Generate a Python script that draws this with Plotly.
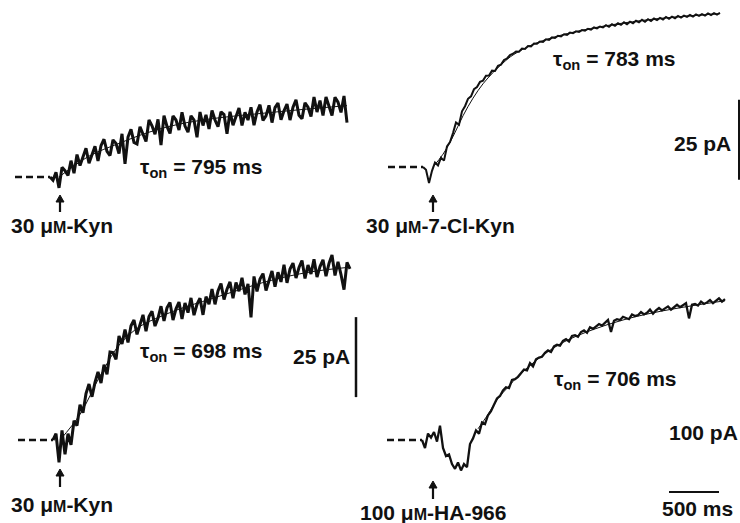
import numpy as np
import plotly.graph_objects as go

# ---------------- data (time in ms, current in pA) ----------------
# Panel A: 30 uM-Kyn (top left)
a_t0, a_dt = -90, 30
a_cur = [0.0, -1.0, 1.5, -3.4, 3.0, 2.0, 0.5, 5.1, 1.2, 7.0,
         3.6, 6.3, 9.0, 4.3, 7.3, 9.6, 5.0, 9.8, 11.8, 8.0,
         6.7, 11.6, 10.5, 7.3, 13.5, 4.1, 12.5, 14.9, 10.8, 10.3,
         15.7, 13.6, 11.1, 17.8, 16.0, 13.4, 18.0, 10.0, 19.2, 15.8,
         13.6, 19.1, 17.8, 14.7, 20.2, 15.9, 14.0, 19.1, 17.8, 12.4,
         20.3, 16.1, 19.4, 15.0, 20.8, 17.8, 15.7, 20.4, 19.5, 13.5,
         20.4, 16.2, 19.2, 21.6, 16.1, 20.2, 17.8, 21.8, 16.2, 20.3,
         22.6, 17.7, 19.1, 22.4, 17.0, 21.7, 23.1, 17.9, 20.7, 22.8,
         17.8, 21.8, 24.1, 19.3, 18.2, 23.2, 21.8, 18.9, 25.0, 20.3,
         23.9, 19.2, 25.0, 22.2, 19.2, 24.9, 23.4, 20.2, 25.3, 17.0]
a_fit_t = [0, 300, 600, 900, 1200, 1600, 2000, 2400, 2880]
a_fit = [0, 6.5, 10.5, 14.0, 16.5, 18.5, 19.8, 21.0, 22.3]

# Panel B: 30 uM-7-Cl-Kyn (top right)
b_t0, b_dt = -100, 30
b_cur = [0.0, -0.9, -5.0, -1.2, 1.4, 0.5, 2.9, 2.0, 6.4, 7.8,
         10.6, 13.9, 13.2, 17.4, 19.0, 21.3, 22.1, 24.3, 25.0, 26.6,
         27.0, 28.5, 28.6, 30.1, 30.0, 31.6, 32.0, 33.4, 33.9, 35.0,
         35.4, 36.1, 36.0, 37.0, 36.9, 37.8, 37.7, 38.6, 38.5, 39.2,
         39.1, 39.9, 39.7, 40.5, 40.3, 41.0, 40.8, 41.5, 41.3, 42.0,
         41.8, 42.4, 42.2, 42.8, 42.6, 43.2, 42.9, 43.6, 43.3, 43.9,
         43.6, 44.3, 43.8, 44.6, 44.1, 44.9, 44.4, 45.2, 44.6, 45.4,
         44.9, 45.7, 45.2, 46.0, 45.4, 46.2, 45.6, 46.4, 45.9, 46.6,
         46.1, 46.9, 46.3, 47.0, 46.5, 47.2, 46.7, 47.3, 46.9, 47.5,
         47.0, 47.7, 47.2, 47.8, 47.3, 48.0, 47.5, 48.1, 47.6, 48.2]
b_fit_t = [0, 100, 200, 300, 400, 500, 600, 700, 800, 1000, 1200, 1500, 1800, 2200, 2600, 2870]
b_fit = [0, 4.0, 9.5, 16.0, 21.5, 26.0, 29.5, 32.5, 35.0, 38.3, 40.5, 42.8, 44.5, 46.2, 47.3, 47.9]

# Panel C: 30 uM-Kyn (bottom left)
c_t0, c_dt = -70, 30
c_cur = [0.0, 2.0, -7.0, 3.0, -4.5, 2.0, -1.5, 6.0, 4.5, 11.0,
         8.5, 14.5, 17.5, 13.5, 18.0, 21.3, 17.8, 23.5, 20.5, 27.5,
         27.3, 25.2, 32.5, 30.0, 34.5, 30.5, 35.7, 37.5, 33.0, 36.5,
         39.1, 34.0, 38.6, 40.2, 35.6, 38.1, 41.8, 37.2, 41.3, 43.0,
         37.5, 41.0, 43.1, 37.8, 42.8, 39.8, 44.4, 39.0, 42.4, 44.3,
         39.1, 44.8, 42.4, 47.2, 42.4, 46.6, 48.9, 43.9, 47.1, 49.4,
         44.3, 49.2, 46.5, 50.7, 45.5, 48.8, 38.3, 51.1, 46.4, 50.3,
         52.0, 46.7, 50.2, 52.8, 47.9, 52.4, 49.4, 54.8, 49.1, 53.4,
         55.3, 50.6, 53.9, 56.1, 50.5, 54.7, 51.9, 56.5, 50.9, 54.2,
         56.3, 51.2, 55.2, 57.8, 51.4, 55.7, 51.7, 47.0, 55.5, 53.5]
c_fit_t = [0, 200, 400, 600, 800, 1000, 1200, 1500, 1800, 2100, 2500, 2900]
c_fit = [0, 8.0, 20.0, 30.0, 35.5, 38.5, 41.0, 44.0, 47.0, 49.8, 52.5, 54.0]

# Panel D: 100 uM-HA-966 (bottom right)
d_t0, d_dt = -110, 30
d_cur = [0, -10, 8, 3, 10, -2, 18, -10, -20, -18,
         -30, -36, -28, -38, -30, -34, -5, 2, 12, 8,
         22, 20, 31, 36, 44, 52, 55, 62, 66, 65,
         75, 76, 79, 84, 88, 87, 96, 92, 101, 103,
         104, 109, 112, 110, 117, 119, 118, 124, 126, 123,
         130, 131, 129, 135, 137, 134, 141, 139, 142, 145,
         143, 146, 150, 135, 149, 151, 150, 154, 152, 151,
         157, 155, 156, 160, 157, 159, 163, 158, 162, 165,
         162, 164, 167, 163, 166, 169, 166, 168, 171, 152,
         169, 170, 168, 173, 170, 172, 175, 171, 174, 177,
         173, 176]
d_fit_t = [450, 550, 650, 750, 850, 950, 1100, 1300, 1600, 1900, 2200, 2600, 2920]
d_fit = [14, 32, 52, 66, 80, 91, 106, 122, 138, 150, 159, 168, 174]

# baselines (pre-application, dashed), ms
base_a = [-440, -90]
base_b = [-450, -100]
base_c = [-420, -70]
base_d = [-460, -110]

# labels
tau_vals = ["795", "783", "698", "706"]
drug_names = ["30 μ|-Kyn", "30 μ|-7-Cl-Kyn", "30 μ|-Kyn", "100 μ|-HA-966"]

# ---------------- layout helpers ----------------
W, H = 740, 523
MS_PER_PX = 10.0
# (x pixel of t=0, y pixel of 0 pA, px per pA, trace width)
panels = {
    "a": (59, 177, 3.2, 3.0),
    "b": (433, 167, 3.2, 2.0),
    "c": (60, 440, 3.2, 3.0),
    "d": (433, 440, 0.8, 2.3),
}
axn = {"a": "", "b": "2", "c": "3", "d": "4"}

fig = go.Figure()
ink = "#111111"

def add_panel(key, t0, dt, cur, ft, fv, base):
    n = axn[key]
    lw = panels[key][3]
    t = t0 + dt * np.arange(len(cur))
    xa, ya = "x" + n, "y" + n
    fig.add_trace(go.Scatter(x=base, y=[0, 0], xaxis=xa, yaxis=ya, mode="lines",
                             line=dict(color=ink, width=2.5, dash="7px,4px"), hoverinfo="skip"))
    fig.add_trace(go.Scatter(x=ft, y=fv, xaxis=xa, yaxis=ya, mode="lines",
                             line=dict(color=ink, width=1.0, shape="spline"), hoverinfo="skip"))
    fig.add_trace(go.Scatter(x=t, y=cur, xaxis=xa, yaxis=ya, mode="lines",
                             line=dict(color=ink, width=lw), hoverinfo="skip"))

add_panel("a", a_t0, a_dt, a_cur, a_fit_t, a_fit, base_a)
add_panel("b", b_t0, b_dt, b_cur, b_fit_t, b_fit, base_b)
add_panel("c", c_t0, c_dt, c_cur, c_fit_t, c_fit, base_c)
add_panel("d", d_t0, d_dt, d_cur, d_fit_t, d_fit, base_d)

layout = dict(width=W, height=H, margin=dict(l=0, r=0, t=0, b=0),
              paper_bgcolor="white", plot_bgcolor="white", showlegend=False)
for key, (x0, y0, s, _) in panels.items():
    n = axn[key]
    xr = [-x0 * MS_PER_PX, (W - x0) * MS_PER_PX]
    yr = [(y0 - H) / s, y0 / s]
    xd = dict(domain=[0, 1], range=xr, visible=False, fixedrange=True, anchor="y" + n)
    yd = dict(domain=[0, 1], range=yr, visible=False, fixedrange=True, anchor="x" + n)
    if n:
        xd["overlaying"] = "x"
        yd["overlaying"] = "y"
    layout["xaxis" + n] = xd
    layout["yaxis" + n] = yd
fig.update_layout(**layout)

FONT = dict(family="Liberation Sans, Arial, sans-serif", size=21, color=ink, weight="bold")

def px(xp, yp):
    return xp / W, 1 - yp / H

def label(text, xp, yp):
    x, y = px(xp, yp)
    fig.add_annotation(x=x, y=y, xref="paper", yref="paper", text=text, showarrow=False,
                       xanchor="left", yanchor="middle", font=FONT)

def arrow(xp, ytip, ytail):
    x, y1 = px(xp, ytip + 5)
    _, y2 = px(xp, ytail)
    fig.add_shape(type="line", xref="paper", yref="paper", x0=x, x1=x, y0=y1, y1=y2,
                  line=dict(color=ink, width=2.2))
    xl, yb = px(xp - 4, ytip + 7)
    xr, _ = px(xp + 4, ytip + 7)
    _, yt = px(xp, ytip)
    fig.add_shape(type="path", xref="paper", yref="paper",
                  path=f"M {xl} {yb} L {x} {yt} L {xr} {yb} Z",
                  fillcolor=ink, line=dict(color=ink, width=1))

SMALL_M = "<span style='font-size:16px'>M</span>"
TAU = "τ<sub>on</sub>"

def tau_text(v):
    return TAU + " = " + v + " ms"

def drug_text(s):
    return s.replace("|", SMALL_M)

label(tau_text(tau_vals[0]), 138, 168)
label(tau_text(tau_vals[1]), 551, 60)
label(tau_text(tau_vals[2]), 138, 352)
label(tau_text(tau_vals[3]), 552, 380)

label(drug_text(drug_names[0]), 9, 226)
label(drug_text(drug_names[1]), 364, 226)
label(drug_text(drug_names[2]), 9, 504)
label(drug_text(drug_names[3]), 358, 512)

label("25 pA", 672, 143)
label("25 pA", 291, 356)
label("100 pA", 667, 432)
label("500 ms", 660, 508)

arrow(60, 195, 212)
arrow(433, 195, 212)
arrow(60, 469, 487)
arrow(433, 481, 499)

# scale bars (length in data units of the panel axes)
BAR_PA = 25
BAR_MS = 500
fig.add_shape(type="line", xref="paper", yref="y2", x0=739 / W, x1=739 / W,
              y0=-4, y1=-4 + BAR_PA, line=dict(color=ink, width=2))
fig.add_shape(type="line", xref="paper", yref="y3", x0=356 / W, x1=356 / W,
              y0=13.4, y1=13.4 + BAR_PA, line=dict(color=ink, width=2.5))
fig.add_shape(type="line", xref="x4", yref="paper", x0=2360, x1=2360 + BAR_MS,
              y0=1 - 492 / H, y1=1 - 492 / H, line=dict(color=ink, width=2))

fig.write_html("out.html", config={"displayModeBar": False})
